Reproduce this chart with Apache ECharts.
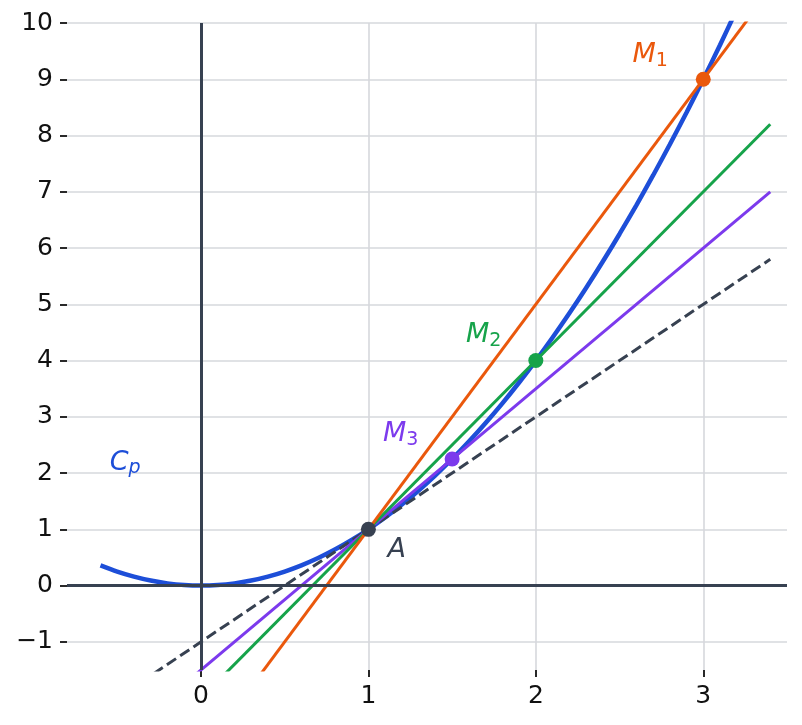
<!DOCTYPE html>
<html>
<head>
<meta charset="utf-8">
<script src="https://cdn.jsdelivr.net/npm/echarts@6.0.0/dist/echarts.min.js"></script>
<style>
  html, body { margin: 0; padding: 0; background: #fff; }
  #chart { width: 802px; height: 725px; }
</style>
</head>
<body>
<div id="chart"></div>
<script>
// --- données ---
const xTicks = [0, 1, 2, 3];
const yTicks = [-1, 0, 1, 2, 3, 4, 5, 6, 7, 8, 9, 10];

// courbe Cp : y = x²
const courbeX = [-0.6, -0.5, -0.4, -0.3, -0.2, -0.1, 0, 0.1, 0.2, 0.3, 0.4, 0.5, 0.6, 0.7, 0.8, 0.9, 1,
    1.1, 1.2, 1.3, 1.4, 1.5, 1.6, 1.7, 1.8, 1.9, 2, 2.1, 2.2, 2.3, 2.4, 2.5, 2.6, 2.7, 2.8, 2.9, 3, 3.1, 3.2];
const courbeY = [0.36, 0.25, 0.16, 0.09, 0.04, 0.01, 0, 0.01, 0.04, 0.09, 0.16, 0.25, 0.36, 0.49, 0.64, 0.81, 1,
    1.21, 1.44, 1.69, 1.96, 2.25, 2.56, 2.89, 3.24, 3.61, 4, 4.41, 4.84, 5.29, 5.76, 6.25, 6.76, 7.29, 7.84, 8.41, 9, 9.61, 10.24];

// sécantes (AM1), (AM2), (AM3) et tangente en A : extrémités
const secanteM1 = [[-0.6, -5.4], [3.4, 10.6]];
const secanteM2 = [[-0.6, -3.8], [3.4, 8.2]];
const secanteM3 = [[-0.6, -3.0], [3.4, 7.0]];
const tangenteA = [[-0.6, -2.2], [3.4, 5.8]];

// points
const pointA = [1, 1];
const pointM1 = [3, 9];
const pointM2 = [2, 4];
const pointM3 = [1.5, 2.25];

// étiquettes : [x, y, texte riche, couleur]
const etiquettes = [
    [2.683, 9.43, '{m|M}{s|1}', '#ea580c'],
    [1.688, 4.45, '{m|M}{s|2}', '#16a34a'],
    [1.193, 2.69, '{m|M}{s|3}', '#7c3aed'],
    [-0.453, 2.18, '{m|C}{p|p}', '#1d4ed8'],
    [1.169, 0.64, '{m|A}', '#374151']
];

const FONT = 'DejaVu Sans';
const BLEU = '#1d4ed8', ORANGE = '#ea580c', VERT = '#16a34a', VIOLET = '#7c3aed', GRIS = '#374151';

const chart = echarts.init(document.getElementById('chart'), null, { renderer: 'canvas' });

const moins = v => (v < 0 ? '\u2212' + (-v) : String(v));

function droite(data, color, type) {
    return {
        type: 'line', data: data, symbol: 'none', clip: true, z: 3,
        lineStyle: { color: color, width: 3, type: type || 'solid', cap: 'butt' },
        silent: true, animation: false
    };
}

function point(p, color) {
    return {
        type: 'scatter', data: [p], symbolSize: 15, z: 6,
        itemStyle: { color: color, opacity: 1 }, silent: true, animation: false
    };
}

const seriesLabels = etiquettes.map(e => ({
    type: 'scatter', data: [[e[0], e[1]]], symbolSize: 0, z: 7, silent: true, animation: false,
    itemStyle: { opacity: 1 },
    label: {
        show: true, position: 'inside', formatter: e[2],
        align: 'center', verticalAlign: 'middle', opacity: 1,
        rich: {
            m: { fontFamily: FONT, fontStyle: 'italic', fontSize: 27, color: e[3], lineHeight: 30 },
            s: { fontFamily: FONT, fontSize: 19, color: e[3], lineHeight: 14, verticalAlign: 'bottom' },
            p: { fontFamily: FONT, fontStyle: 'italic', fontSize: 19, color: e[3], lineHeight: 14, verticalAlign: 'bottom' }
        }
    }
}));

const axeCommun = {
    axisLine: { show: false, onZero: false },
    splitLine: { show: true, lineStyle: { color: '#d6d8dc', width: 1.6 } }
};

const option = {
    backgroundColor: '#fff',
    animation: false,
    grid: { left: 67, right: 15, top: 23, bottom: 55, containLabel: false },
    xAxis: Object.assign({
        type: 'value', min: -0.8, max: 3.5,
        axisTick: { show: true, customValues: xTicks, length: 7, lineStyle: { color: '#111', width: 1.8 } },
        axisLabel: { customValues: xTicks, fontFamily: FONT, fontSize: 25, color: '#111', margin: 14, formatter: moins }
    }, axeCommun),
    yAxis: Object.assign({
        type: 'value', min: -1.5, max: 10,
        axisTick: { show: true, customValues: yTicks, length: 7, lineStyle: { color: '#111', width: 1.8 } },
        axisLabel: { customValues: yTicks, fontFamily: FONT, fontSize: 25, color: '#111', margin: 14, formatter: moins }
    }, axeCommun),
    series: [
        // axes passant par l'origine
        {
            type: 'line', data: [], z: 1, silent: true, animation: false,
            markLine: {
                silent: true, symbol: 'none', animation: false,
                label: { show: false },
                lineStyle: { color: GRIS, width: 3, type: 'solid' },
                data: [{ xAxis: 0 }, { yAxis: 0 }]
            }
        },
        {
            type: 'line', data: courbeX.map((x, i) => [x, courbeY[i]]), smooth: 0.3,
            symbol: 'none', clip: true, z: 2, silent: true, animation: false,
            lineStyle: { color: BLEU, width: 4.5 }
        },
        droite(tangenteA, GRIS, [11, 5]),
        droite(secanteM3, VIOLET),
        droite(secanteM2, VERT),
        droite(secanteM1, ORANGE),
        point(pointA, GRIS),
        point(pointM1, ORANGE),
        point(pointM2, VERT),
        point(pointM3, VIOLET)
    ].concat(seriesLabels)
};

chart.setOption(option);
window.addEventListener('resize', () => chart.resize());
</script>
</body>
</html>
